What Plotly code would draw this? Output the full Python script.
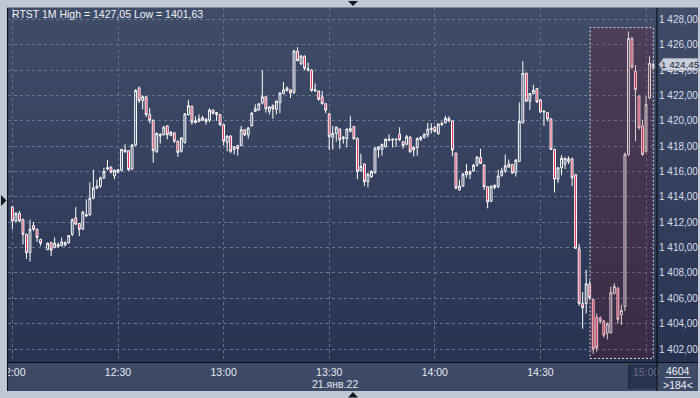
import pandas as pd
import plotly.graph_objects as go

# ---------------- data ----------------
session_start = "2022-01-21 12:00"
n_bars = 183
times = pd.date_range(session_start, periods=n_bars, freq="min")

open_ = [
    1413.2, 1412.1, 1412.7, 1412.2, 1411.05, 1409.6, 1411.75, 1411.45, 1410.65, None,
    1409.85, 1410.4, 1410.0, 1410.1, 1410.15, 1410.2, 1410.4, 1411.05, 1412.35, 1411.9,
    1411.45, 1412.5, 1412.6, 1413.9, 1414.7, 1414.85, 1415.5, 1416.2, 1416.35, 1415.65,
    1415.95, 1416.1, 1417.55, 1417.65, 1416.2, 1418.1, 1422.6, 1421.6, 1421.9, 1420.5,
    1420.05, 1417.55, 1418.8, 1418.9, 1419.6, 1418.85, 1419.05, 1418.4, 1417.6, 1418.3,
    1420.5, 1421.15, 1419.85, 1419.95, 1420.05, 1420.15, 1420.05, 1420.85, 1420.65, 1420.5,
    1419.7, 1418.3, 1418.8, 1417.75, 1418.05, 1418.05, 1419.3, 1418.9, 1419.6, 1420.75,
    1420.85, 1421.4, 1421.9, 1420.75, 1421.2, 1420.9, 1421.45, 1422.15, 1422.4, 1422.45,
    1422.25, 1425.5, 1424.5, 1425.1, 1424.0, 1424.0, 1422.35, 1422.35, 1421.9, 1421.35,
    1420.55, 1418.7, 1419.0, 1419.35, 1418.6, 1418.6, 1419.15, 1419.55, 1418.6, 1416.05,
    1416.6, 1415.2, 1415.6, 1415.9, 1417.75, 1417.75, 1417.95, 1418.45, 1418.5, 1418.5,
    1418.95, 1418.35, 1418.15, 1418.7, 1417.7, 1417.9, 1418.55, 1418.7, 1418.9, 1419.3,
    1419.5, 1419.0, 1419.7, 1419.85, 1420.2, 1420.0, 1417.45, 1414.55, 1414.85, 1415.75,
    1416.0, 1416.05, 1416.5, 1417.1, 1416.5, 1414.8, 1413.65, 1414.75, 1414.8, 1415.7,
    1416.05, 1416.6, 1416.55, 1415.9, 1416.8, 1419.85, 1423.75, 1421.55, 1422.15, 1422.55,
    1421.65, 1420.7, 1420.65, 1420.15, 1417.75, 1415.4, 1416.3, 1416.6, 1416.8, 1417.0,
    1415.75, 1409.9, 1405.6, 1405.6, 1407.1, 1405.9, 1404.5, 1404.45, 1404.2, 1403.25,
    1403.3, 1406.4, 1406.8, 1404.7, 1405.35, 1417.35, 1426.5, 1423.9, 1421.95, 1419.6,
    1417.6, 1421.8, 1424.15,
]
high = [
    1413.3, 1412.8, 1412.9, 1412.3, 1411.1, 1412.2, 1412.0, 1411.5, 1410.7, None,
    1410.4, 1410.45, 1410.8, 1410.4, 1410.8, 1410.5, 1411.0, 1412.3, 1413.2, 1411.95,
    1412.9, 1413.8, 1415.15, 1416.15, 1415.35, 1415.6, 1416.3, 1416.9, 1416.4, 1416.15,
    1416.2, 1417.8, 1418.15, 1417.7, 1418.15, 1422.5, 1422.7, 1422.0, 1421.95, 1421.0,
    1420.1, 1419.1, 1419.0, 1419.6, 1419.65, 1419.2, 1419.1, 1418.45, 1418.7, 1420.6,
    1421.65, 1421.2, 1420.35, 1420.5, 1420.4, 1420.2, 1421.0, 1420.9, 1420.7, 1420.55,
    1419.75, 1418.85, 1418.85, 1418.0, 1418.1, 1419.6, 1419.35, 1419.5, 1420.7, 1421.3,
    1421.4, 1424.0, 1421.95, 1421.15, 1421.3, 1421.6, 1422.25, 1423.05, 1422.7, 1422.5,
    1425.6, 1425.8, 1425.2, 1425.15, 1424.6, 1424.05, 1422.95, 1422.4, 1422.35, 1421.4,
    1420.6, 1419.6, 1419.55, 1419.4, 1418.8, 1419.4, 1420.4, 1419.6, 1418.7, 1417.4,
    1416.65, 1415.9, 1416.1, 1417.9, 1418.0, 1418.2, 1418.6, 1418.95, 1418.6, 1418.6,
    1419.5, 1418.4, 1418.9, 1418.8, 1418.0, 1418.7, 1418.8, 1419.0, 1419.85, 1419.8,
    1419.6, 1419.8, 1419.95, 1420.4, 1420.35, 1420.05, 1417.5, 1415.35, 1415.9, 1416.6,
    1416.1, 1416.6, 1417.2, 1417.8, 1416.6, 1414.85, 1414.9, 1415.0, 1416.15, 1416.3,
    1417.35, 1416.95, 1416.6, 1417.0, 1421.45, 1424.7, 1423.8, 1422.2, 1422.85, 1422.6,
    1421.7, 1420.85, 1420.7, 1420.2, 1417.8, 1416.35, 1417.3, 1417.1, 1417.2, 1417.1,
    1415.8, 1410.3, 1406.5, 1408.25, 1407.4, 1406.0, 1404.8, 1404.6, 1404.3, 1404.1,
    1406.9, 1407.2, 1406.9, 1405.5, 1417.5, 1427.05, 1426.6, 1424.4, 1422.0, 1420.1,
    1421.95, 1425.1, 1424.6,
]
low = [
    1411.45, 1412.0, 1412.0, 1410.25, 1409.1, 1408.9, 1411.3, 1410.45, 1410.15, None,
    1409.8, 1409.35, 1409.95, 1410.0, 1410.1, 1410.1, 1410.3, 1410.9, 1411.8, 1410.9,
    1411.4, 1412.4, 1412.5, 1413.8, 1414.6, 1414.7, 1415.4, 1416.1, 1415.85, 1415.4,
    1415.85, 1416.0, 1417.5, 1416.05, 1416.1, 1418.0, 1421.4, 1420.9, 1420.3, 1419.8,
    1416.7, 1417.5, 1418.2, 1418.85, 1418.55, 1418.8, 1418.25, 1417.15, 1417.5, 1418.2,
    1420.4, 1419.7, 1419.8, 1419.9, 1420.0, 1419.7, 1419.9, 1420.5, 1420.0, 1419.6,
    1418.05, 1417.6, 1417.45, 1417.35, 1417.25, 1418.0, 1418.8, 1418.6, 1419.55, 1420.7,
    1420.8, 1421.3, 1420.65, 1420.5, 1420.15, 1420.5, 1420.6, 1422.1, 1422.3, 1421.8,
    1422.1, 1424.7, 1424.4, 1424.0, 1423.9, 1422.3, 1422.3, 1421.6, 1421.3, 1420.6,
    1417.7, 1417.75, 1418.35, 1417.8, 1418.2, 1417.9, 1419.1, 1418.5, 1415.4, 1416.0,
    1414.85, 1414.75, 1415.5, 1415.85, 1417.1, 1417.25, 1417.9, 1418.4, 1417.9, 1417.95,
    1418.4, 1417.8, 1418.1, 1417.5, 1417.2, 1417.25, 1418.4, 1418.6, 1418.7, 1419.0,
    1419.1, 1418.9, 1419.6, 1419.8, 1419.9, 1417.2, 1414.6, 1414.5, 1414.8, 1415.5,
    1415.4, 1416.0, 1416.4, 1416.6, 1414.55, 1413.1, 1413.6, 1414.6, 1414.7, 1415.6,
    1415.9, 1416.3, 1415.8, 1415.6, 1416.75, 1419.8, 1421.5, 1420.85, 1422.1, 1421.4,
    1420.6, 1419.6, 1419.95, 1417.7, 1414.35, 1415.1, 1415.7, 1416.2, 1416.6, 1414.85,
    1409.9, 1405.4, 1403.6, 1404.8, 1405.9, 1401.63, 1401.8, 1404.0, 1402.9, 1402.75,
    1403.2, 1406.3, 1404.0, 1403.9, 1405.0, 1417.2, 1424.1, 1418.4, 1419.3, 1417.25,
    1417.5, 1421.7, 1424.1,
]
close = [
    1412.1, 1412.7, 1412.1, 1411.05, 1409.6, 1411.45, 1411.45, 1410.8, 1410.35, None,
    1410.35, 1409.8, 1410.35, 1410.25, 1410.45, 1410.4, 1410.95, 1412.2, 1411.85, 1411.45,
    1412.8, 1412.6, 1413.9, 1414.7, 1414.85, 1415.5, 1416.0, 1416.3, 1415.95, 1416.1,
    1416.15, 1417.75, 1417.7, 1416.15, 1418.1, 1422.4, 1421.6, 1421.9, 1420.5, 1420.05,
    1417.65, 1419.0, 1418.95, 1419.5, 1418.9, 1419.1, 1418.4, 1417.5, 1418.65, 1420.55,
    1421.2, 1419.9, 1420.0, 1420.15, 1420.25, 1419.95, 1420.85, 1420.6, 1420.5, 1419.7,
    1418.4, 1418.8, 1417.6, 1417.95, 1417.8, 1419.3, 1418.9, 1419.45, 1420.6, 1420.95,
    1421.35, 1421.9, 1420.95, 1421.1, 1420.95, 1421.55, 1422.2, 1422.45, 1422.6, 1422.2,
    1425.5, 1424.75, 1425.1, 1424.15, 1424.1, 1422.4, 1422.45, 1421.7, 1421.35, 1420.85,
    1418.75, 1419.0, 1419.5, 1418.5, 1418.7, 1419.35, 1419.4, 1418.6, 1416.0, 1416.4,
    1415.2, 1415.8, 1416.0, 1417.85, 1417.95, 1418.15, 1418.55, 1418.55, 1418.55, 1418.55,
    1418.5, 1418.05, 1418.75, 1417.55, 1417.9, 1418.6, 1418.7, 1418.95, 1419.35, 1419.4,
    1419.15, 1419.75, 1419.8, 1420.2, 1420.0, 1417.7, 1414.7, 1414.85, 1415.8, 1416.0,
    1415.8, 1416.5, 1417.15, 1416.65, 1414.8, 1413.6, 1414.85, 1414.9, 1415.65, 1416.05,
    1416.45, 1416.35, 1415.9, 1416.9, 1419.95, 1423.75, 1421.55, 1422.15, 1422.4, 1421.5,
    1420.7, 1420.75, 1420.15, 1417.75, 1415.4, 1416.3, 1417.05, 1417.05, 1417.0, 1415.5,
    1409.95, 1405.6, 1405.25, 1407.15, 1406.05, 1402.0, 1402.1, 1404.2, 1403.1, 1404.0,
    1406.45, 1406.95, 1404.35, 1405.05, 1417.35, 1426.5, 1424.25, 1422.45, 1419.45, 1417.35,
    1421.3, 1424.55, 1424.45,
]

y_ticks = [1402, 1404, 1406, 1408, 1410, 1412, 1414, 1416, 1418, 1420, 1422, 1424, 1426, 1428]
x_ticks = ["2022-01-21 12:00", "2022-01-21 12:30", "2022-01-21 13:00", "2022-01-21 13:30",
           "2022-01-21 14:00", "2022-01-21 14:30", "2022-01-21 15:00"]
x_tick_text = ["12:00", "12:30", "13:00", "13:30", "14:00", "14:30",
               "<span style='color:#66718a'>15:00</span>"]

title_text = "RTST 1M High = 1427,05 Low = 1401,63"
date_text = "21.янв.22"
last_price = 1424.45
last_price_text = "1 424,45"
counter_top = "4604"
counter_bottom = ">184<"

sel_x0, sel_x1 = "2022-01-21 14:44:05", "2022-01-21 15:02:04"
sel_y0, sel_y1 = 1401.26, 1427.35

x_range = ["2022-01-21 11:58:45", "2022-01-21 15:02:50"]
y_range = [1400.98, 1428.9]


def fmt(v):
    s = f"{v:,.2f}"
    return s.replace(",", " ").replace(".", ",")


# ---------------- geometry helpers ----------------
W, H = 700, 398
ML, MR, MT, MB = 8, 44, 8, 36
PW, PH = W - ML - MR, H - MT - MB


def px(x):
    return (x - ML) / PW


def py(y):
    return (H - MB - y) / PH


FONT = "Liberation Sans, Arial, sans-serif"

fig = go.Figure()
fig.add_trace(go.Candlestick(
    x=times, open=open_, high=high, low=low, close=close,
    increasing=dict(line=dict(color="#ffffff", width=1), fillcolor="rgba(0,0,0,0)"),
    decreasing=dict(line=dict(color="#ffffff", width=1), fillcolor="#e3123f"),
    whiskerwidth=0, hoverinfo="skip", showlegend=False,
))

shapes = []
# gradient background (plot + right axis panel)
top_c = (64, 77, 105)
bot_c = (40, 51, 81)
nb = 40
y_top, y_bot = 8, 362
for i in range(nb):
    t = (i + 0.5) / nb
    c = tuple(round(top_c[k] + (bot_c[k] - top_c[k]) * t) for k in range(3))
    ya = y_top + (y_bot - y_top) * i / nb
    yb = y_top + (y_bot - y_top) * (i + 1) / nb + 0.6
    shapes.append(dict(type="rect", xref="paper", yref="paper", layer="below",
                       x0=px(8), x1=px(700), y0=py(yb), y1=py(ya),
                       fillcolor="rgb(%d,%d,%d)" % c, line=dict(width=0)))
# bottom axis band
shapes.append(dict(type="rect", xref="paper", yref="paper", layer="below",
                   x0=px(8), x1=px(700), y0=py(391), y1=py(362),
                   fillcolor="#3d4a66", line=dict(width=0)))
# darker box behind 15:00 label
shapes.append(dict(type="rect", xref="paper", yref="paper", layer="below",
                   x0=px(629), x1=px(656.5), y0=py(389), y1=py(364.5),
                   fillcolor="#29334e", line=dict(width=0)))
shapes.append(dict(type="line", xref="paper", yref="paper", layer="below",
                   x0=px(629), x1=px(629), y0=py(389), y1=py(364.5),
                   line=dict(color="#1e253a", width=1.5)))

# selection box
shapes.append(dict(type="rect", xref="x", yref="y", layer="above",
                   x0=sel_x0, x1=sel_x1, y0=sel_y0, y1=sel_y1,
                   fillcolor="rgba(132,10,32,0.2)",
                   line=dict(color="rgba(235,235,235,0.9)", width=1, dash="2px,2px")))

# black separators
for (xa, ya, xb, yb) in [(657, 8, 657, 391), (8, 362.5, 700, 362.5), (7.5, 8, 7.5, 391)]:
    shapes.append(dict(type="line", xref="paper", yref="paper", layer="above",
                       x0=px(xa), y0=py(ya), x1=px(xb), y1=py(yb),
                       line=dict(color="#0c0f16", width=1.2)))

# counter separator line
shapes.append(dict(type="line", xref="paper", yref="paper", layer="above",
                   x0=px(665), x1=px(691), y0=py(377.5), y1=py(377.5),
                   line=dict(color="#c8d0dc", width=1)))

# light frame
frame = "#bfc8d5"
for (xa, ya, xb, yb) in [(0, 0, 7, 398), (0, 0, 700, 7.5), (0, 391, 700, 398), (698, 0, 700, 398)]:
    shapes.append(dict(type="rect", xref="paper", yref="paper", layer="above",
                       x0=px(xa), x1=px(xb), y0=py(yb), y1=py(ya),
                       fillcolor=frame, line=dict(width=0)))

# frame triangles
def tri(points):
    d = "M " + " L ".join(f"{px(a)},{py(b)}" for a, b in points) + " Z"
    return dict(type="path", xref="paper", yref="paper", layer="above", path=d,
                fillcolor="#141821", line=dict(width=0))

shapes.append(tri([(1, 195), (6.5, 200.5), (1, 206)]))
shapes.append(tri([(348, 1), (358, 1), (353, 6)]))
shapes.append(tri([(348, 397.5), (358, 397.5), (353, 392)]))

# last-price tag (x in paper, y in price units)
ppu = PH / (y_range[1] - y_range[0])
hh = 6 / ppu
tag = (f"M {px(659)},{last_price} L {px(663.5)},{last_price + hh} L {px(697.5)},{last_price + hh} "
       f"L {px(697.5)},{last_price - hh} L {px(663.5)},{last_price - hh} Z")
shapes.append(dict(type="path", xref="paper", yref="y", layer="above", path=tag,
                   fillcolor="#c9d0db", line=dict(color="#9aa3b2", width=1)))

annotations = [
    dict(xref="paper", yref="paper", x=px(10), y=py(14), text=title_text, showarrow=False,
         xanchor="left", yanchor="middle", font=dict(family=FONT, size=10.5, color="#f2f4f8")),
    dict(xref="paper", yref="paper", x=px(335), y=py(384), text=date_text, showarrow=False,
         xanchor="center", yanchor="middle", font=dict(family=FONT, size=10.5, color="#e4e9f2")),
    dict(xref="paper", yref="paper", x=px(678), y=py(371), text=counter_top, showarrow=False,
         xanchor="center", yanchor="middle", font=dict(family=FONT, size=10.5, color="#eef1f6")),
    dict(xref="paper", yref="paper", x=px(678), y=py(384.5), text=counter_bottom, showarrow=False,
         xanchor="center", yanchor="middle", font=dict(family=FONT, size=10.5, color="#eef1f6")),
    dict(xref="paper", yref="y", x=px(680.5), y=last_price, text=last_price_text, showarrow=False,
         xanchor="center", yanchor="middle", font=dict(family=FONT, size=9.8, color="#1a2030")),
]

fig.update_layout(
    width=W, height=H,
    margin=dict(l=ML, r=MR, t=MT, b=MB, pad=0, autoexpand=False),
    paper_bgcolor="#3d4a66", plot_bgcolor="rgba(0,0,0,0)",
    shapes=shapes, annotations=annotations,
    font=dict(family=FONT, size=10, color="#e4e9f2"),
    boxgap=0.25,
    xaxis=dict(
        type="date", range=x_range, rangeslider=dict(visible=False),
        tickvals=x_ticks, ticktext=x_tick_text, automargin=False,
        ticklabeloverflow="allow", ticklabelstandoff=2,
        showgrid=True, gridcolor="rgba(104,119,146,0.9)", griddash="3px,3px", gridwidth=1,
        zeroline=False, showline=False, ticks="",
        tickfont=dict(family=FONT, size=10.5, color="#e4e9f2"),
        fixedrange=True,
    ),
    yaxis=dict(
        side="right", range=y_range, automargin=False,
        tickvals=y_ticks, ticktext=[fmt(v) for v in y_ticks],
        showgrid=True, gridcolor="#6a7994", griddash="3px,3px", gridwidth=1,
        zeroline=False, showline=False, ticks="",
        ticklabelstandoff=2, ticklabeloverflow="allow",
        tickfont=dict(family=FONT, size=10, color="#d7deeb"),
        fixedrange=True,
    ),
    hovermode=False,
)

fig.write_html("out.html", config=dict(displayModeBar=False))
